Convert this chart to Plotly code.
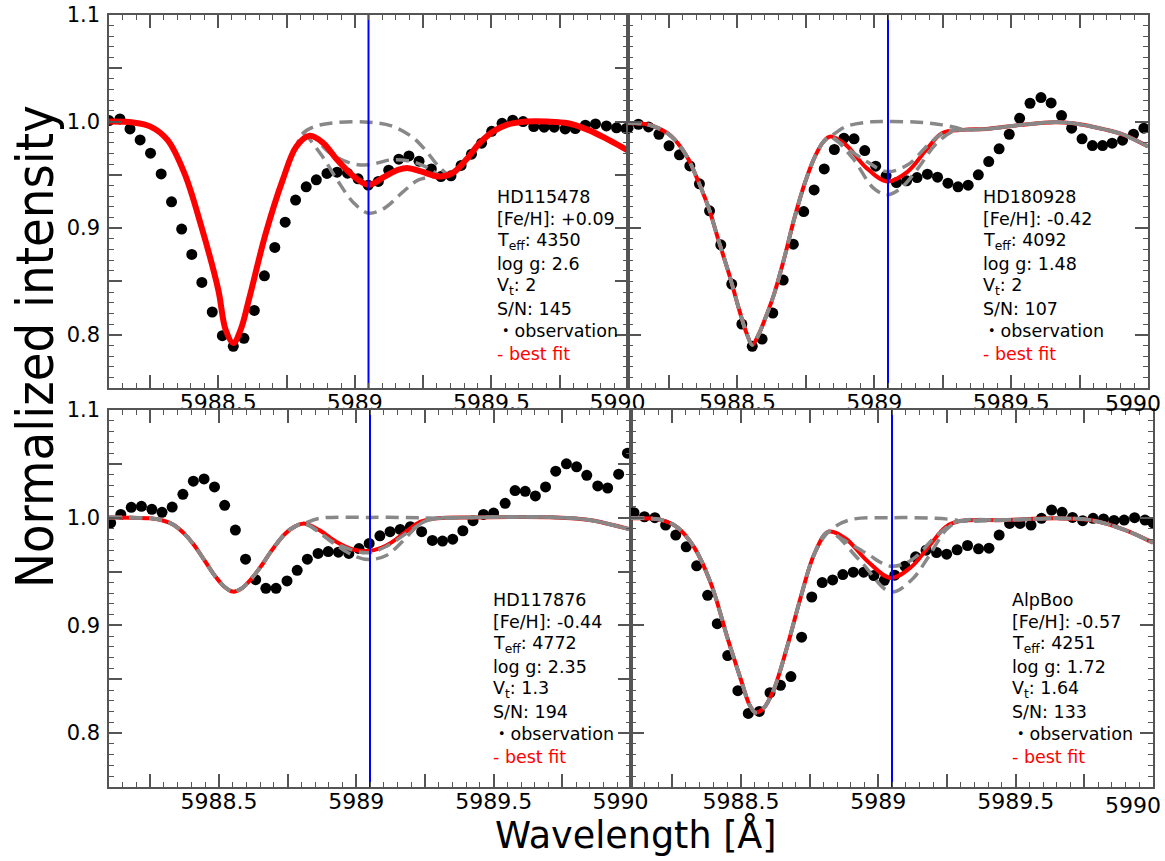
import plotly.graph_objects as go

W, H = 1165, 861

# ---------------- data ----------------
LINE_WL = 5989.05  # Fe line marker (blue)

# Panel 1: HD115478
obs1_wl = [5988.100, 5988.140, 5988.177, 5988.214, 5988.252, 5988.291, 5988.329, 5988.366, 5988.403, 5988.440,
           5988.478, 5988.515, 5988.555, 5988.594, 5988.632, 5988.669, 5988.707, 5988.745, 5988.783, 5988.822,
           5988.859, 5988.898, 5988.935, 5988.973, 5989.012, 5989.049, 5989.086, 5989.124, 5989.161, 5989.198,
           5989.235, 5989.280, 5989.315, 5989.352, 5989.389, 5989.427, 5989.464, 5989.501, 5989.539, 5989.578,
           5989.616, 5989.655, 5989.693, 5989.730, 5989.770, 5989.807, 5989.844, 5989.881, 5989.921, 5989.958,
           5989.993]
obs1_fl = [1.0009, 1.0025, 0.9931, 0.9828, 0.9703, 0.9509, 0.9247, 0.8991, 0.8753, 0.8491,
           0.8213, 0.7991, 0.7891, 0.7966, 0.8228, 0.8553, 0.8819, 0.9056, 0.9263, 0.9388,
           0.9453, 0.9513, 0.9525, 0.9516, 0.9463, 0.9403, 0.9438, 0.9544, 0.9647, 0.9678,
           0.9628, 0.9556, 0.9484, 0.9491, 0.9588, 0.9694, 0.9797, 0.9909, 0.9984, 1.0013,
           1.0000, 0.9953, 0.9947, 0.9947, 0.9931, 0.9934, 0.9966, 0.9978, 0.9959, 0.9941,
           0.9934]
fit1_wl = [5988.100, 5988.189, 5988.252, 5988.314, 5988.376, 5988.438, 5988.500, 5988.527, 5988.555, 5988.582,
           5988.612, 5988.674, 5988.736, 5988.786, 5988.835, 5988.885, 5988.935, 5988.997, 5989.050, 5989.109,
           5989.158, 5989.196, 5989.245, 5989.307, 5989.357, 5989.407, 5989.457, 5989.506, 5989.556, 5989.630,
           5989.705, 5989.780, 5989.854, 5989.929, 5990.000]
fit1_fl = [1.0000, 0.9991, 0.9953, 0.9828, 0.9516, 0.9016, 0.8422, 0.8047, 0.7922, 0.8047,
           0.8328, 0.8953, 0.9453, 0.9766, 0.9866, 0.9797, 0.9641, 0.9484, 0.9406, 0.9484,
           0.9547, 0.9563, 0.9531, 0.9484, 0.9516, 0.9641, 0.9797, 0.9906, 0.9969, 1.0000,
           1.0000, 0.9984, 0.9922, 0.9828, 0.9728]
up1_wl = [5988.810, 5988.860, 5988.935, 5989.050, 5989.134, 5989.208, 5989.258, 5989.307, 5989.345]
up1_fl = [0.9890, 0.9959, 0.9991, 0.9994, 0.9959, 0.9859, 0.9734, 0.9578, 0.9500]
mid1_wl = [5988.835, 5988.910, 5988.984, 5989.050, 5989.134, 5989.208, 5989.270, 5989.320]
mid1_fl = [0.9866, 0.9703, 0.9610, 0.9594, 0.9641, 0.9625, 0.9563, 0.9484]
low1_wl = [5988.810, 5988.873, 5988.935, 5988.997, 5989.050, 5989.109, 5989.171, 5989.233, 5989.295, 5989.340]
low1_fl = [0.9880, 0.9703, 0.9453, 0.9234, 0.9141, 0.9188, 0.9328, 0.9453, 0.9484, 0.9500]

# Panel 2: HD180928
obs2_wl = [5988.100, 5988.138, 5988.175, 5988.213, 5988.250, 5988.288, 5988.326, 5988.361, 5988.398, 5988.439,
           5988.479, 5988.516, 5988.554, 5988.590, 5988.629, 5988.667, 5988.704, 5988.742, 5988.780, 5988.817,
           5988.854, 5988.889, 5988.926, 5988.965, 5989.005, 5989.043, 5989.081, 5989.118, 5989.156, 5989.194,
           5989.231, 5989.269, 5989.306, 5989.343, 5989.380, 5989.418, 5989.456, 5989.493, 5989.531, 5989.569,
           5989.609, 5989.646, 5989.684, 5989.721, 5989.759, 5989.797, 5989.834, 5989.869, 5989.907, 5989.947,
           5989.985]
obs2_fl = [0.9938, 0.9975, 0.9950, 0.9881, 0.9772, 0.9688, 0.9584, 0.9416, 0.9163, 0.8844,
           0.8475, 0.8100, 0.7891, 0.7959, 0.8203, 0.8513, 0.8850, 0.9156, 0.9359, 0.9556,
           0.9738, 0.9844, 0.9838, 0.9728, 0.9581, 0.9491, 0.9428, 0.9444, 0.9475, 0.9506,
           0.9478, 0.9422, 0.9388, 0.9403, 0.9500, 0.9625, 0.9744, 0.9881, 1.0031, 1.0172,
           1.0225, 1.0175, 1.0056, 0.9938, 0.9838, 0.9775, 0.9775, 0.9797, 0.9825, 0.9881,
           0.9938]
fit2_wl = [5988.100, 5988.169, 5988.244, 5988.282, 5988.319, 5988.357, 5988.395, 5988.432, 5988.470, 5988.508,
           5988.533, 5988.554, 5988.577, 5988.602, 5988.633, 5988.671, 5988.708, 5988.746, 5988.783, 5988.815,
           5988.840, 5988.896, 5988.972, 5989.047, 5989.122, 5989.185, 5989.247, 5989.323, 5989.411, 5989.536,
           5989.661, 5989.724, 5989.849, 5989.912, 5990.000]
fit2_fl = [0.9984, 0.9975, 0.9891, 0.9797, 0.9656, 0.9438, 0.9188, 0.8875, 0.8563, 0.8219,
           0.8016, 0.7906, 0.8000, 0.8156, 0.8375, 0.8719, 0.9094, 0.9422, 0.9672, 0.9813,
           0.9859, 0.9781, 0.9563, 0.9438, 0.9531, 0.9719, 0.9891, 0.9922, 0.9931, 0.9969,
           0.9994, 0.9984, 0.9922, 0.9875, 0.9766]
up2_wl = [5988.840, 5988.896, 5988.972, 5989.047, 5989.160, 5989.247, 5989.316]
up2_fl = [0.9859, 0.9953, 0.9994, 1.0000, 0.9994, 0.9969, 0.9931]
mid2_wl = [5988.846, 5988.972, 5989.047, 5989.122, 5989.197, 5989.260]
mid2_fl = [0.9850, 0.9625, 0.9531, 0.9594, 0.9781, 0.9906]
low2_wl = [5988.840, 5988.921, 5988.997, 5989.047, 5989.097, 5989.160, 5989.222, 5989.285]
low2_fl = [0.9859, 0.9656, 0.9375, 0.9313, 0.9375, 0.9563, 0.9781, 0.9906]

# Panel 3: HD117876
obs3_wl = [5988.106, 5988.143, 5988.181, 5988.218, 5988.256, 5988.293, 5988.330, 5988.369, 5988.407, 5988.446,
           5988.484, 5988.521, 5988.560, 5988.597, 5988.634, 5988.671, 5988.708, 5988.748, 5988.785, 5988.822,
           5988.861, 5988.898, 5988.935, 5988.973, 5989.010, 5989.047, 5989.086, 5989.123, 5989.160, 5989.197,
           5989.238, 5989.277, 5989.314, 5989.351, 5989.388, 5989.425, 5989.463, 5989.500, 5989.542, 5989.578,
           5989.615, 5989.652, 5989.689, 5989.726, 5989.765, 5989.802, 5989.839, 5989.879, 5989.915, 5989.955,
           5989.987]
obs3_fl = [0.9953, 1.0031, 1.0096, 1.0106, 1.0078, 1.0050, 1.0099, 1.0217, 1.0339, 1.0360,
           1.0286, 1.0115, 0.9885, 0.9615, 0.9425, 0.9345, 0.9345, 0.9413, 0.9512, 0.9615,
           0.9668, 0.9686, 0.9680, 0.9668, 0.9714, 0.9761, 0.9832, 0.9870, 0.9891, 0.9916,
           0.9870, 0.9789, 0.9783, 0.9801, 0.9879, 0.9972, 1.0031, 1.0043, 1.0134, 1.0252,
           1.0245, 1.0202, 1.0286, 1.0432, 1.0500, 1.0472, 1.0394, 1.0295, 1.0276, 1.0404,
           1.0599]
fit3_wl = [5988.100, 5988.250, 5988.299, 5988.336, 5988.373, 5988.410, 5988.447, 5988.484, 5988.521, 5988.551,
           5988.582, 5988.619, 5988.656, 5988.693, 5988.742, 5988.779, 5988.810, 5988.865, 5988.927, 5988.988,
           5989.050, 5989.111, 5989.173, 5989.234, 5989.296, 5989.419, 5989.726, 5989.849, 5990.000]
fit3_fl = [1.0003, 0.9994, 0.9972, 0.9932, 0.9854, 0.9745, 0.9606, 0.9466, 0.9357, 0.9314,
           0.9342, 0.9435, 0.9559, 0.9699, 0.9854, 0.9922, 0.9947, 0.9885, 0.9776, 0.9705,
           0.9693, 0.9745, 0.9854, 0.9963, 0.9994, 1.0003, 1.0003, 0.9978, 0.9889]
up3_wl = [5988.810, 5988.865, 5989.050, 5989.234, 5989.296]
up3_fl = [0.9947, 0.9994, 1.0003, 1.0000, 0.9994]
mid3_wl = [5988.810, 5988.927, 5989.037, 5989.111, 5989.185, 5989.260]
mid3_fl = [0.9947, 0.9761, 0.9674, 0.9736, 0.9860, 0.9980]
low3_wl = [5988.810, 5988.927, 5989.000, 5989.050, 5989.111, 5989.173, 5989.234, 5989.296]
low3_fl = [0.9947, 0.9745, 0.9637, 0.9612, 0.9652, 0.9792, 0.9947, 0.9994]

# Panel 4: AlpBoo
obs4_wl = [5988.111, 5988.149, 5988.187, 5988.226, 5988.263, 5988.301, 5988.339, 5988.379, 5988.414, 5988.452,
           5988.489, 5988.527, 5988.567, 5988.606, 5988.644, 5988.682, 5988.721, 5988.758, 5988.796, 5988.834,
           5988.871, 5988.909, 5988.947, 5988.984, 5989.022, 5989.060, 5989.097, 5989.136, 5989.174, 5989.212,
           5989.249, 5989.287, 5989.325, 5989.365, 5989.403, 5989.440, 5989.478, 5989.516, 5989.556, 5989.594,
           5989.631, 5989.669, 5989.707, 5989.744, 5989.782, 5989.820, 5989.858, 5989.895, 5989.933, 5989.971,
           5990.000]
obs4_fl = [1.0047, 1.0009, 1.0000, 0.9932, 0.9839, 0.9730, 0.9553, 0.9280, 0.9016, 0.8720,
           0.8394, 0.8183, 0.8202, 0.8376, 0.8444, 0.8525, 0.8891, 0.9264, 0.9398, 0.9422,
           0.9472, 0.9494, 0.9494, 0.9463, 0.9419, 0.9466, 0.9550, 0.9637, 0.9699, 0.9677,
           0.9661, 0.9702, 0.9742, 0.9711, 0.9717, 0.9839, 0.9947, 0.9947, 0.9932, 0.9994,
           1.0071, 1.0050, 1.0003, 0.9972, 0.9994, 0.9988, 0.9975, 0.9978, 1.0000, 0.9978,
           0.9953]
fit4_wl = [5988.100, 5988.203, 5988.266, 5988.329, 5988.391, 5988.454, 5988.505, 5988.530, 5988.552, 5988.580,
           5988.618, 5988.668, 5988.718, 5988.768, 5988.819, 5988.881, 5988.957, 5989.045, 5989.120, 5989.183,
           5989.246, 5989.296, 5989.459, 5989.648, 5989.773, 5989.899, 5990.000]
fit4_fl = [0.9994, 0.9984, 0.9916, 0.9730, 0.9388, 0.8860, 0.8457, 0.8270, 0.8193, 0.8224,
           0.8394, 0.8798, 0.9264, 0.9668, 0.9870, 0.9807, 0.9606, 0.9441, 0.9543, 0.9730,
           0.9916, 0.9969, 0.9978, 0.9994, 0.9978, 0.9885, 0.9767]
up4_wl = [5988.819, 5988.894, 5989.045, 5989.208, 5989.283]
up4_fl = [0.9870, 0.9978, 1.0000, 0.9994, 0.9978]
mid4_wl = [5988.830, 5988.957, 5989.045, 5989.120, 5989.208, 5989.271]
mid4_fl = [0.9860, 0.9668, 0.9550, 0.9606, 0.9823, 0.9947]
low4_wl = [5988.819, 5988.932, 5989.045, 5989.120, 5989.183, 5989.246]
low4_fl = [0.9870, 0.9606, 0.9311, 0.9419, 0.9637, 0.9885]

star_names = ["HD115478", "HD180928", "HD117876", "AlpBoo"]
feh = ["+0.09", "-0.42", "-0.44", "-0.57"]
teff = ["4350", "4092", "4772", "4251"]
logg = ["2.6", "1.48", "2.35", "1.72"]
vt = ["2", "2", "1.3", "1.64"]
snr = ["145", "107", "194", "133"]

x_tick_vals = [5988.25, 5988.5, 5988.75, 5989.0, 5989.25, 5989.5, 5989.75, 5990.0]
x_tick_text = ["", "5988.5", "", "5989", "", "5989.5", "", "5990"]
y_tick_vals = [0.8, 0.85, 0.9, 0.95, 1.0, 1.05, 1.1]
y_tick_text = ["0.8", "", "0.9", "", "1.0", "", "1.1"]
X_RANGE = [5988.1, 5990.0]
Y_RANGE = [0.75, 1.1]

# ---------------- layout helpers ----------------
# panel frames in pixels: (left, right, top, bottom)
frames = [(109, 628, 15, 388), (628, 1148, 15, 388), (109, 631, 410, 787), (631, 1153, 410, 787)]
text_left = [495, 981, 491, 1010]
text_top = [197, 197, 600, 600]
LINE_STEP = 22.4
# right-column end label (drawn as text so it stays inside the page)
end_label_pos = {2: (1133, 404), 4: (1133, 805)}

panels = [
    (obs1_wl, obs1_fl, fit1_wl, fit1_fl, [(up1_wl, up1_fl), (mid1_wl, mid1_fl), (low1_wl, low1_fl)]),
    (obs2_wl, obs2_fl, fit2_wl, fit2_fl, [(up2_wl, up2_fl), (mid2_wl, mid2_fl), (low2_wl, low2_fl)]),
    (obs3_wl, obs3_fl, fit3_wl, fit3_fl, [(up3_wl, up3_fl), (mid3_wl, mid3_fl), (low3_wl, low3_fl)]),
    (obs4_wl, obs4_fl, fit4_wl, fit4_fl, [(up4_wl, up4_fl), (mid4_wl, mid4_fl), (low4_wl, low4_fl)]),
]


def splice(fw, ff, sw, sf):
    xs, ys = [], []
    for a, b in zip(fw, ff):
        if a < sw[0]:
            xs.append(a); ys.append(b)
    xs += sw; ys += sf
    for a, b in zip(fw, ff):
        if a > sw[-1]:
            xs.append(a); ys.append(b)
    return xs, ys


fig = go.Figure()
FRAME = "#555555"
GRAY = "#888888"
FONT = "DejaVu Sans"

for i, (ow, of, fw, ff, segs) in enumerate(panels):
    n = i + 1
    xa = "x" if n == 1 else f"x{n}"
    ya = "y" if n == 1 else f"y{n}"
    red = go.Scatter(x=fw, y=ff, mode="lines", line=dict(color="red", width=6 if n == 1 else 4, shape="spline"),
                     xaxis=xa, yaxis=ya, showlegend=False, hoverinfo="skip")
    grays = []
    for sw, sf in segs:
        gx, gy = splice(fw, ff, sw, sf)
        grays.append(go.Scatter(x=gx, y=gy, mode="lines",
                                line=dict(color=GRAY, width=3.5, dash="13px,7px", shape="spline"),
                                xaxis=xa, yaxis=ya, showlegend=False, hoverinfo="skip"))
    obs = go.Scatter(x=ow, y=of, mode="markers", marker=dict(color="black", size=11),
                     xaxis=xa, yaxis=ya, showlegend=False)
    if n == 1:
        fig.add_trace(obs)
        for g in grays:
            fig.add_trace(g)
        fig.add_trace(red)
    else:
        fig.add_trace(obs)
        fig.add_trace(red)
        for g in grays:
            fig.add_trace(g)
    fig.add_trace(go.Scatter(x=[LINE_WL, LINE_WL], y=Y_RANGE, mode="lines", line=dict(color="blue", width=2),
                             xaxis=xa, yaxis=ya, showlegend=False, hoverinfo="skip"))

    l, r, t, b = frames[i]
    if n in end_label_pos:
        xt = x_tick_text[:-1] + [""]
        ex, ey = end_label_pos[n]
        fig.add_annotation(x=ex / W, y=1 - ey / H, xref="paper", yref="paper", text=x_tick_text[-1],
                           showarrow=False, xanchor="center", yanchor="middle",
                           font=dict(family=FONT, size=22, color="black"))
    else:
        xt = x_tick_text[:-1] + [x_tick_text[-1] + "\u00a0" * 3]
    xaxis = dict(domain=[l / W, r / W], range=X_RANGE, anchor=ya, tickmode="array", tickvals=x_tick_vals,
                 ticktext=xt, ticks="inside", ticklen=13, tickwidth=1.5, tickcolor=FRAME, automargin=False,
                 ticklabeloverflow="allow", ticklabelstandoff=-6,
                 showline=True, linecolor=FRAME, linewidth=1.5, mirror="allticks", showgrid=False,
                 zeroline=False, tickfont=dict(family=FONT, size=22, color="black"),
                 minor=dict(tickmode="linear", tick0=5988.0, dtick=0.05, ticks="inside", ticklen=5,
                            tickcolor=FRAME, tickwidth=1, showgrid=False))
    yaxis = dict(domain=[1 - b / H, 1 - t / H], range=Y_RANGE, anchor=xa, tickmode="array",
                 tickvals=y_tick_vals, ticktext=y_tick_text, ticks="inside", ticklen=13, tickwidth=1.5,
                 tickcolor=FRAME, showline=True, linecolor=FRAME, linewidth=1.5, mirror="allticks",
                 showgrid=False, zeroline=False, showticklabels=(n in (1, 3)), automargin=False,
                 ticklabeloverflow="allow", ticklabelstandoff=3,
                 tickfont=dict(family=FONT, size=21, color="black"),
                 minor=dict(tickmode="linear", tick0=0.0, dtick=0.01, ticks="inside", ticklen=5,
                            tickcolor=FRAME, tickwidth=1, showgrid=False))
    fig.update_layout(**{("xaxis" if n == 1 else f"xaxis{n}"): xaxis,
                         ("yaxis" if n == 1 else f"yaxis{n}"): yaxis})

    lines = [
        (star_names[i], "black"),
        (f"[Fe/H]: {feh[i]}", "black"),
        (f"T<sub>eff</sub>: {teff[i]}", "black"),
        (f"log g: {logg[i]}", "black"),
        (f"V<sub>t</sub>: {vt[i]}", "black"),
        (f"S/N: {snr[i]}", "black"),
        ("・observation", "black"),
        ("- best fit", "red"),
    ]
    for k, (txt, col) in enumerate(lines):
        fig.add_annotation(x=text_left[i] / W, y=1 - (text_top[i] + k * LINE_STEP) / H, xref="paper", yref="paper",
                           text=txt, showarrow=False, xanchor="left", yanchor="middle",
                           font=dict(family=FONT + ", Noto Sans CJK JP", size=17.5, color=col))

fig.add_annotation(x=35 / W, y=1 - 347 / H, xref="paper", yref="paper", text="Normalized intensity",
                   textangle=-90, showarrow=False, xanchor="center", yanchor="middle",
                   font=dict(family="DejaVu Sans Condensed, DejaVu Sans", size=52, color="black"))
fig.add_annotation(x=636 / W, y=1 - 835 / H, xref="paper", yref="paper", text="Wavelength [Å]",
                   showarrow=False, xanchor="center", yanchor="middle",
                   font=dict(family=FONT, size=36.5, color="black"))

fig.update_layout(template="none", width=W, height=H, margin=dict(l=0, r=0, t=0, b=0), paper_bgcolor="white",
                  plot_bgcolor="white", showlegend=False)

fig.write_html("out.html", config={"displayModeBar": False},
               post_script="document.body.style.margin='0';document.body.style.overflow='hidden';")
